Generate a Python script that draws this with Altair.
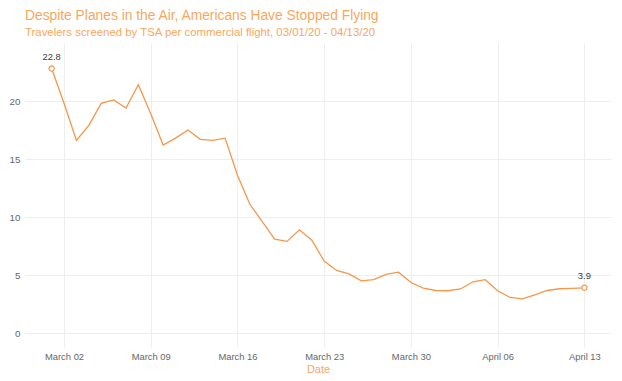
import altair as alt
import pandas as pd

dates = pd.date_range("2020-03-01", "2020-04-13", freq="D").strftime("%Y-%m-%d").tolist()
values = [22.8, 19.8, 16.6, 17.9, 19.8, 20.1, 19.4, 21.4, 18.9, 16.2,
          16.8, 17.5, 16.7, 16.6, 16.8, 13.6, 11.1, 9.6, 8.1, 7.9,
          8.9, 8.0, 6.2, 5.4, 5.1, 4.5, 4.6, 5.05, 5.25, 4.36,
          3.88, 3.67, 3.65, 3.8, 4.42, 4.6, 3.65, 3.07, 2.95, 3.3,
          3.67, 3.82, 3.85, 3.9]
tick_dates = ["2020-03-02", "2020-03-09", "2020-03-16", "2020-03-23",
              "2020-03-30", "2020-04-06", "2020-04-13"]
y_ticks = [0, 5, 10, 15, 20]

df = pd.DataFrame({"date": dates, "value": values})
ends = df.iloc[[0, -1]].copy()
ends["label"] = ["22.8", "3.9"]

def ms(s):
    return int(pd.Timestamp(s, tz="UTC").value // 10**6)

day = 86400000
x_domain = [ms(dates[0]) - int(2.15 * day), ms(dates[-1]) + int(2.15 * day)]
tick_ms = [ms(t) for t in tick_dates]

LINE = "#F6964B"
TITLE = "#F8A85E"
GRID = "#EEEEEE"

x_enc = alt.X("date:T", scale=alt.Scale(type="utc", domain=x_domain),
              axis=alt.Axis(values=tick_ms, labelExpr="utcFormat(datum.value, '%B %d')",
                            title="Date", grid=True, ticks=False, domain=False,
                            labelPadding=5, titlePadding=3, labelFontSize=9.4,
                            titleFontSize=11))
y_enc = alt.Y("value:Q", scale=alt.Scale(domain=[-1.2, 25], nice=False, zero=False),
              axis=alt.Axis(values=y_ticks, title=None, grid=True, ticks=False,
                            domain=False, labelPadding=5, labelFontSize=9.8))

line = alt.Chart(df).mark_line(color=LINE, strokeWidth=1.3).encode(x=x_enc, y=y_enc)
pts = alt.Chart(ends).mark_point(shape="circle", size=28, filled=True, fill="white",
                                 stroke=LINE, strokeWidth=1.2, opacity=1).encode(
    x="date:T", y="value:Q")
txt = alt.Chart(ends).mark_text(dy=-12, fontSize=9.4, color="#3a3a3a",
                                font="Liberation Sans").encode(
    x="date:T", y="value:Q", text="label:N")

chart = alt.layer(line, pts, txt).properties(
    width=586, height=304,
    autosize=alt.AutoSizeParams(type="none"),
    padding={"left": 17, "top": 35, "right": 3, "bottom": 30},
    title=alt.TitleParams(
        text="Despite Planes in the Air, Americans Have Stopped Flying",
        subtitle="Travelers screened by TSA per commercial flight, 03/01/20 - 04/13/20",
        anchor="start", color=TITLE, subtitleColor=TITLE,
        font="Liberation Sans", subtitleFont="Liberation Sans",
        fontSize=13.8, subtitleFontSize=11.4, fontWeight="normal",
        offset=5, subtitlePadding=4, frame="group"),
).configure_view(stroke=None).configure_axis(
    gridColor=GRID, gridWidth=1, labelColor="#666666",
    labelFont="Liberation Sans", titleFont="Liberation Sans",
    titleColor=TITLE, titleFontWeight="normal"
)

chart.save("out.html", embed_options={"renderer": "svg", "actions": False})
